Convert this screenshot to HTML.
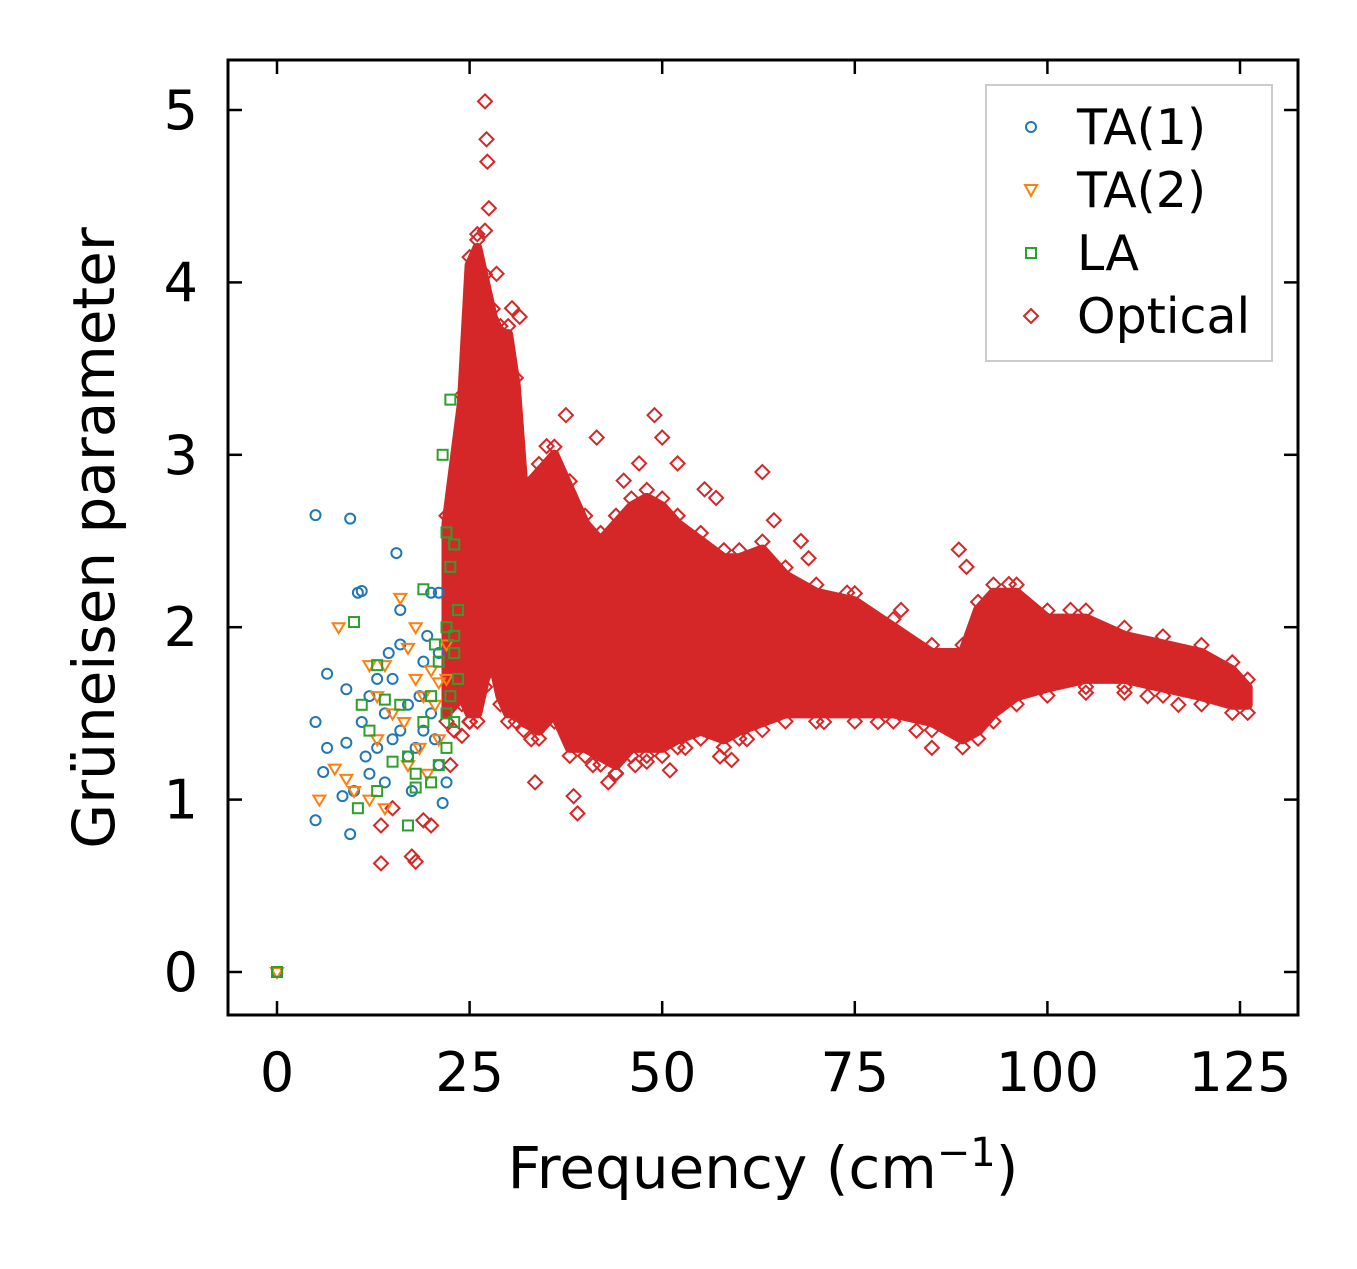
<!DOCTYPE html>
<html><head><meta charset="utf-8"><style>
body{margin:0;background:#fff}
svg text{font-family:"DejaVu Sans","Liberation Sans",sans-serif;fill:#000}
</style></head><body>
<svg id="chart" width="1357" height="1264" viewBox="0 0 1357 1264" xmlns="http://www.w3.org/2000/svg">
<rect width="1357" height="1264" fill="#fff"/>
<g id="marks"></g>
<g id="axes"></g>
<text x="763" y="1188" font-size="58" text-anchor="middle">Frequency (cm<tspan dy="-22" font-size="40">−1</tspan><tspan dy="22">)</tspan></text>
<text transform="translate(114,538) rotate(-90)" font-size="58" text-anchor="middle">Grüneisen parameter</text>
<g>
<rect x="986" y="85" width="286" height="276" fill="#fff" stroke="#ccc" stroke-width="2"/>
<circle cx="1031" cy="127" r="5" fill="none" stroke="#1f77b4" stroke-width="2"/>
<text x="1077" y="144" font-size="49">TA(1)</text>
<path d="M1025,185 L1037,185 L1031,196 Z" fill="none" stroke="#ff7f0e" stroke-width="2"/>
<text x="1077" y="207" font-size="49">TA(2)</text>
<rect x="1026" y="248" width="10" height="10" fill="none" stroke="#2ca02c" stroke-width="2"/>
<text x="1077" y="270" font-size="49">LA</text>
<path d="M1031,309 L1038,316 L1031,323 L1024,316 Z" fill="none" stroke="#d62728" stroke-width="2"/>
<text x="1077" y="333" font-size="49">Optical</text>
</g>
</svg>
<script>
const xTicks=[0,25,50,75,100,125];
const yTicks=[0,1,2,3,4,5];
const bandFreq=[22,24,25,26,27,28,29,30,31,32,34,36,38,40,42,44,46,48,50,52,55,58,60,63,66,70,75,80,85,89,91,93,96,100,105,110,115,120,124,126];
const bandUpper=[2.6,3.3,4.1,4.2,4.0,3.8,3.7,3.7,3.4,2.8,2.9,3.0,2.8,2.6,2.5,2.6,2.7,2.75,2.7,2.6,2.5,2.4,2.4,2.45,2.3,2.2,2.15,2.0,1.85,1.85,2.1,2.2,2.2,2.05,2.05,1.95,1.9,1.85,1.75,1.65];
const bandLower=[1.5,1.6,1.5,1.5,1.7,1.8,1.6,1.5,1.5,1.45,1.4,1.5,1.3,1.3,1.25,1.2,1.3,1.3,1.3,1.35,1.4,1.35,1.4,1.45,1.5,1.5,1.5,1.5,1.45,1.35,1.4,1.5,1.6,1.65,1.7,1.7,1.65,1.6,1.55,1.55];
const optX=[27,27.2,27.3,27.5,26,27,28.5,37.5,41.5,49,50,52,63,64.5,68,88.5,89.5,33.5,39,38.5,13.5,18,17.5,13.5,20,19,15,43,48,51,59,85,105,110,113,117,22.5,23,24,25,30.5,31.5,35,45,47,55.5,57,69,74,81,95,103,33,36.5,41,44,46.5,53,57.5,61,71,78,83];
const optY=[5.05,4.83,4.7,4.43,4.28,4.3,4.05,3.23,3.1,3.23,3.1,2.95,2.9,2.62,2.5,2.45,2.35,1.1,0.92,1.02,0.63,0.64,0.67,0.85,0.85,0.88,0.95,1.1,1.22,1.17,1.23,1.3,1.62,1.62,1.6,1.55,1.2,1.4,1.37,1.45,3.85,3.8,3.05,2.85,2.95,2.8,2.75,2.4,2.2,2.1,2.25,2.1,1.35,1.5,1.2,1.15,1.2,1.3,1.25,1.35,1.45,1.45,1.4];
const ta1X=[0,5,9.5,5,6,6.5,6.5,5,9.5,8.5,9,9,10.5,11,15.5,16,20,21,11,12,13,14,15,16,17,18,19,20,21,21.5,10,12,14,18.5,19.5,21,17,13,16,20.5,22,11.5,15,17.5,19,14.5];
const ta1Y=[0,2.65,2.63,1.45,1.16,1.3,1.73,0.88,0.8,1.02,1.33,1.64,2.2,2.21,2.43,2.1,2.2,2.2,1.45,1.6,1.3,1.5,1.7,1.4,1.55,1.3,1.8,1.5,1.2,0.98,1.05,1.15,1.1,1.6,1.95,1.85,1.25,1.7,1.9,1.35,1.1,1.25,1.35,1.05,1.4,1.85];
const ta2X=[0,8,10,5.5,7.5,12,14,16,12,13,15,17,18,19,20,21,22,18.5,19.5,20.5,16.5,9,14,18,22,13,17,21];
const ta2Y=[0,2.0,1.05,1.0,1.18,1.78,1.78,2.17,1.0,1.35,1.5,1.88,1.7,1.6,1.75,1.68,1.7,1.3,1.15,1.55,1.45,1.12,0.95,2.0,1.9,1.6,1.2,1.35];
const laX=[0,10,21.5,22.5,22,23,22.5,19,13,11,12,14,10.5,17,18,13,15,17,18,20,21,22,23,23.5,23,22,23.5,20,21,22.5,19,16,20.5,23,22];
const laY=[0,2.03,3.0,3.32,2.55,2.48,2.35,2.22,1.78,1.55,1.4,1.58,0.95,0.85,1.07,1.05,1.22,1.25,1.15,1.1,1.2,1.3,1.45,1.7,1.85,2.0,2.1,1.6,1.8,1.6,1.45,1.55,1.9,1.95,1.5];

const X0=228,X1=1298,Y0=60,Y1=1015;
const sx=v=>277+v*(1240-277)/125;
const sy=v=>972-v*(972-110)/5;
const NS='http://www.w3.org/2000/svg';
const marks=document.getElementById('marks'),axes=document.getElementById('axes');
function mk(tag,attrs,parent){const e=document.createElementNS(NS,tag);for(const k in attrs)e.setAttribute(k,attrs[k]);parent.appendChild(e);return e;}

let pts=bandFreq.map((f,i)=>sx(f)+','+sy(bandUpper[i]));
for(let i=bandFreq.length-1;i>=0;i--)pts.push(sx(bandFreq[i])+','+sy(bandLower[i]));
const band=mk('polygon',{points:pts.join(' '),fill:'#d62728',stroke:'#d62728','stroke-width':10,'stroke-linejoin':'round'},marks);


function diamond(x,y,name){const e=mk('path',{d:`M${x},${y-7} L${x+7},${y} L${x},${y+7} L${x-7},${y} Z`,fill:'none',stroke:'#d62728','stroke-width':2},marks);

}
bandFreq.forEach((f,i)=>{diamond(sx(f),sy(bandUpper[i])-8,'optical-edge-point');diamond(sx(f),sy(bandLower[i])+8,'optical-edge-point');});
optX.forEach((v,i)=>diamond(sx(v),sy(optY[i]),'optical-point'));
ta1X.forEach((v,i)=>{const e=mk('circle',{cx:sx(v),cy:sy(ta1Y[i]),r:5,fill:'none',stroke:'#1f77b4','stroke-width':2},marks);

});
ta2X.forEach((v,i)=>{const x=sx(v),y=sy(ta2Y[i]);const e=mk('path',{d:`M${x-6},${y-4} L${x+6},${y-4} L${x},${y+6} Z`,fill:'none',stroke:'#ff7f0e','stroke-width':2},marks);

});
laX.forEach((v,i)=>{const e=mk('rect',{x:sx(v)-5,y:sy(laY[i])-5,width:10,height:10,fill:'none',stroke:'#2ca02c','stroke-width':2},marks);

});

const fr=mk('rect',{x:X0,y:Y0,width:X1-X0,height:Y1-Y0,fill:'none',stroke:'#000','stroke-width':3},axes);


xTicks.forEach(t=>{const x=sx(t);
mk('line',{x1:x,x2:x,y1:Y1,y2:Y1-14,stroke:'#000','stroke-width':2.5},axes);
mk('line',{x1:x,x2:x,y1:Y0,y2:Y0+14,stroke:'#000','stroke-width':2.5},axes);
const l=mk('text',{x:x,y:1091,'font-size':54,'text-anchor':'middle'},axes);l.textContent=t;

});
yTicks.forEach(t=>{const y=sy(t);
mk('line',{x1:X0,x2:X0+14,y1:y,y2:y,stroke:'#000','stroke-width':2.5},axes);
mk('line',{x1:X1,x2:X1-14,y1:y,y2:y,stroke:'#000','stroke-width':2.5},axes);
const l=mk('text',{x:198,y:y+19,'font-size':54,'text-anchor':'end'},axes);l.textContent=t;

});
</script>
</body></html>
